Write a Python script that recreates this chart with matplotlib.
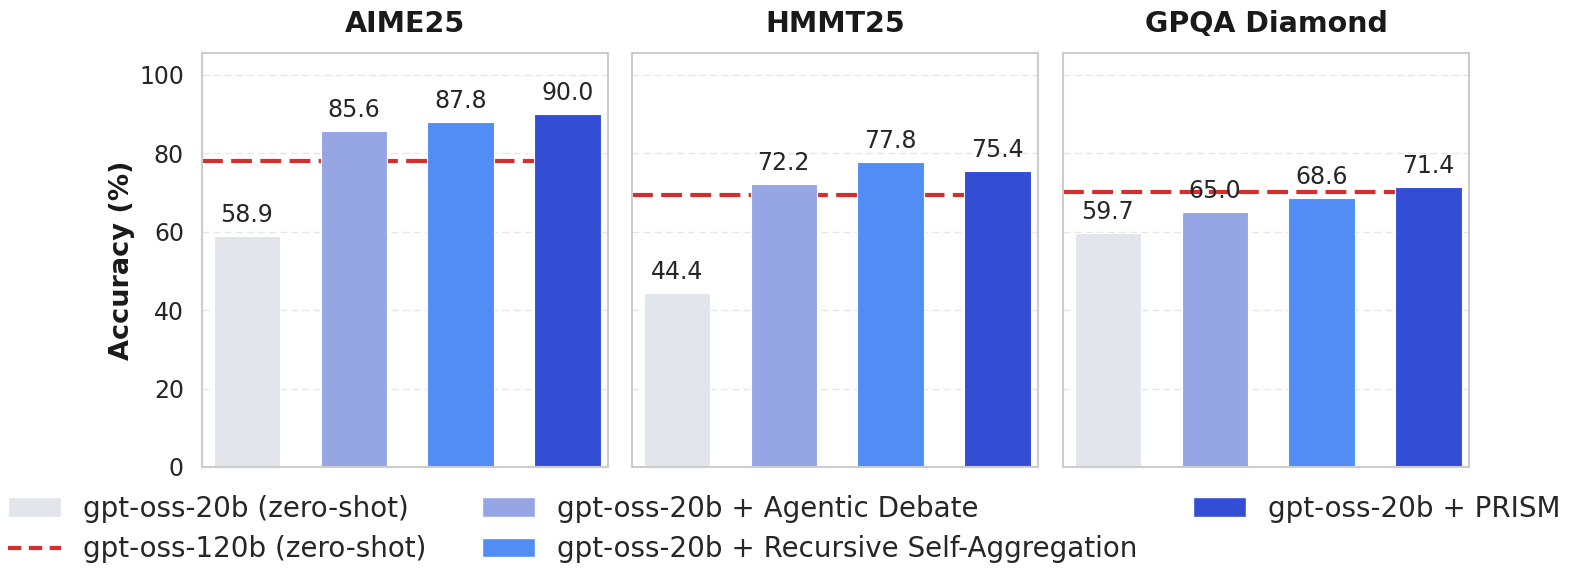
import matplotlib
matplotlib.use("Agg")
import matplotlib.pyplot as plt
from matplotlib.patches import Patch
from matplotlib.lines import Line2D

benchmarks = ["AIME25", "HMMT25", "GPQA Diamond"]
methods = ["gpt-oss-20b (zero-shot)", "gpt-oss-20b + Agentic Debate",
           "gpt-oss-20b + Recursive Self-Aggregation", "gpt-oss-20b + PRISM"]
scores = {
    "AIME25": [58.9, 85.6, 87.8, 90.0],
    "HMMT25": [44.4, 72.2, 77.8, 75.4],
    "GPQA Diamond": [59.7, 65.0, 68.6, 71.4],
}
ref_label = "gpt-oss-120b (zero-shot)"
ref_scores = [78.0, 69.2, 70.1]
colors = ["#E2E5EA", "#96A5E4", "#528CF5", "#334ED4"]
ref_color = "#D32F2F"

plt.rcParams['font.family'] = ['DejaVu Sans']
fig = plt.figure(figsize=(15.91, 5.83), dpi=100)
lefts = [202, 632, 1063]
width_px = 406
bottom_px, top_px = 467, 53
W, H = 1591, 583
axes = []
for i, b in enumerate(benchmarks):
    ax = fig.add_axes([lefts[i] / W, 1 - bottom_px / H, width_px / W, (bottom_px - top_px) / H])
    axes.append(ax)
    vals = scores[b]
    x = list(range(len(vals)))
    ax.grid(axis='y', linestyle=(0, (5, 3)), color='#E6E6E6', linewidth=1.0, zorder=0)
    ax.axhline(ref_scores[i], color=ref_color, linestyle=(0, (5, 2)), linewidth=3, zorder=1)
    ax.bar(x, vals, width=0.62, color=colors, edgecolor='white', linewidth=0.8, zorder=2)
    for xi, v in zip(x, vals):
        ax.text(xi, v + 2.3, f"{v:.1f}", ha='center', va='bottom', fontsize=17, color='#262626', zorder=3)
    ax.set_xlim(-0.42, 3.38)
    ax.set_ylim(0, 105.5)
    ax.set_yticks([0, 20, 40, 60, 80, 100])
    ax.set_xticks([])
    ax.set_title(b, fontsize=20.5, fontweight='bold', pad=15, color='#1a1a1a')
    for s in ax.spines.values():
        s.set_color('#CCCCCC')
        s.set_linewidth(1.5)
    ax.tick_params(axis='y', length=0, labelsize=17, labelcolor='#262626', pad=13)
    if i == 0:
        ax.set_ylabel("Accuracy (%)", fontsize=19.5, fontweight='bold', labelpad=3, color='#1a1a1a')
    else:
        ax.set_yticklabels([])

handles = [
    Patch(facecolor=colors[0], edgecolor='white', label=methods[0]),
    Line2D([0], [0], color=ref_color, linestyle=(0, (3.2, 1.8)), linewidth=3, label=ref_label),
    Patch(facecolor=colors[1], edgecolor='white', label=methods[1]),
    Patch(facecolor=colors[2], edgecolor='white', label=methods[2]),
    Patch(facecolor=colors[3], edgecolor='white', label=methods[3]),
]
fig.legend(handles=handles, loc='lower center', bbox_to_anchor=(0.493, 0.005), ncol=3,
           frameon=False, fontsize=20, handlelength=1.9, handleheight=0.7,
           handletextpad=0.8, columnspacing=2.0, labelspacing=0.45, labelcolor='#262626',
           borderaxespad=0.2)

fig.savefig("out.png", dpi=100)
